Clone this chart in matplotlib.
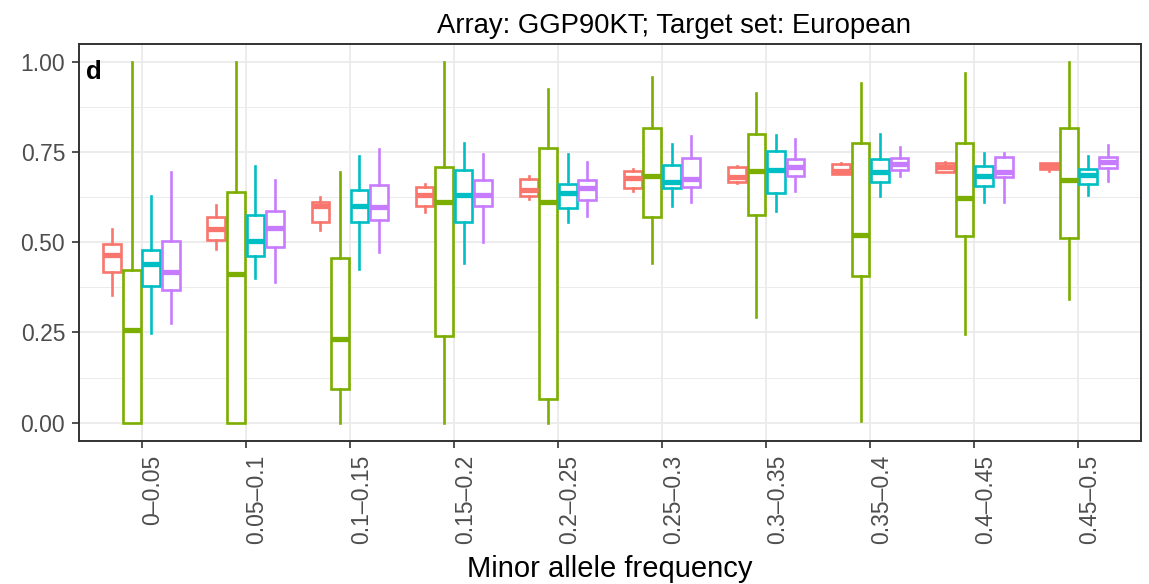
import numpy as np
import matplotlib
matplotlib.use("Agg")
import matplotlib.pyplot as plt
from matplotlib.ticker import MultipleLocator

plt.rcParams["font.family"] = ["Liberation Sans", "DejaVu Sans"]

# Data: per MAF bin, (whisker low, q1, median, q3, whisker high)
categories = ["0\u20130.05", "0.05\u20130.1", "0.1\u20130.15", "0.15\u20130.2", "0.2\u20130.25",
              "0.25\u20130.3", "0.3\u20130.35", "0.35\u20130.4", "0.4\u20130.45", "0.45\u20130.5"]

grp1 = [(0.353, 0.417, 0.465, 0.495, 0.537),
        (0.482, 0.507, 0.537, 0.569, 0.604),
        (0.533, 0.555, 0.602, 0.611, 0.625),
        (0.585, 0.602, 0.630, 0.654, 0.662),
        (0.620, 0.629, 0.645, 0.675, 0.684),
        (0.643, 0.652, 0.679, 0.698, 0.703),
        (0.664, 0.668, 0.682, 0.708, 0.712),
        (0.689, 0.690, 0.698, 0.718, 0.720),
        (0.695, 0.696, 0.708, 0.721, 0.723),
        (0.698, 0.703, 0.711, 0.719, 0.720)]

grp2 = [(0.000, 0.000, 0.258, 0.424, 1.000),
        (0.000, 0.000, 0.413, 0.640, 1.000),
        (0.000, 0.093, 0.233, 0.456, 0.696),
        (0.000, 0.241, 0.612, 0.708, 1.000),
        (0.000, 0.066, 0.612, 0.761, 0.924),
        (0.444, 0.569, 0.685, 0.816, 0.959),
        (0.293, 0.576, 0.699, 0.801, 0.913),
        (0.005, 0.408, 0.519, 0.775, 0.943),
        (0.246, 0.518, 0.622, 0.775, 0.969),
        (0.343, 0.513, 0.673, 0.816, 1.000)]

grp3 = [(0.248, 0.378, 0.440, 0.479, 0.629),
        (0.401, 0.463, 0.504, 0.576, 0.712),
        (0.426, 0.555, 0.602, 0.645, 0.738),
        (0.442, 0.555, 0.632, 0.701, 0.775),
        (0.555, 0.595, 0.636, 0.661, 0.745),
        (0.601, 0.650, 0.666, 0.715, 0.773),
        (0.587, 0.636, 0.701, 0.752, 0.798),
        (0.629, 0.666, 0.695, 0.731, 0.801),
        (0.613, 0.657, 0.684, 0.712, 0.747),
        (0.631, 0.662, 0.687, 0.704, 0.738)]

grp4 = [(0.276, 0.368, 0.417, 0.505, 0.696),
        (0.391, 0.486, 0.539, 0.587, 0.673),
        (0.473, 0.562, 0.599, 0.659, 0.758),
        (0.502, 0.601, 0.630, 0.673, 0.745),
        (0.572, 0.618, 0.652, 0.673, 0.722),
        (0.611, 0.653, 0.675, 0.733, 0.795),
        (0.643, 0.684, 0.708, 0.730, 0.786),
        (0.684, 0.701, 0.717, 0.733, 0.765),
        (0.613, 0.682, 0.695, 0.736, 0.749),
        (0.670, 0.705, 0.723, 0.736, 0.769)]

groups = [grp1, grp2, grp3, grp4]
colors = ["#F8766D", "#7CAE00", "#00BFC4", "#C77CFF"]

fig = plt.figure(figsize=(11.49, 5.84), dpi=100)
ax = fig.add_axes([0.0688, 0.2454, 0.9242, 0.6793])

x = np.arange(1, len(categories) + 1)
dodge = 0.1875
for k, (grp, col) in enumerate(zip(groups, colors)):
    stats = [dict(whislo=s[0], q1=s[1], med=s[2], q3=s[3], whishi=s[4]) for s in grp]
    pos = x + (k - 1.5) * dodge
    ax.bxp(stats, positions=pos, widths=0.17, showfliers=False, showcaps=False,
           patch_artist=True, manage_ticks=False,
           boxprops=dict(facecolor="white", edgecolor=col, linewidth=1.9),
           whiskerprops=dict(color=col, linewidth=1.9),
           medianprops=dict(color=col, linewidth=3.8, solid_capstyle="butt"),
           zorder=3)

ax.set_xlim(0.4, 10.6)
ax.set_ylim(-0.05, 1.05)
ax.set_xticks(x)
ax.set_xticklabels(categories, rotation=90, ha="left", va="top")
ax.yaxis.set_minor_locator(MultipleLocator(0.125))
ax.set_yticks([0, 0.25, 0.5, 0.75, 1.0])
ax.set_yticklabels(["0.00", "0.25", "0.50", "0.75", "1.00"])

ax.grid(True, which="major", color="#EBEBEB", linewidth=1.3, zorder=0)
ax.grid(True, which="minor", axis="y", color="#EBEBEB", linewidth=0.7, zorder=0)
ax.set_axisbelow(True)
ax.tick_params(axis="both", which="major", labelsize=16.5, labelcolor="#4D4D4D",
               color="#333333", length=5, width=1.2, pad=5)
ax.tick_params(axis="y", which="minor", length=0)
for sp in ax.spines.values():
    sp.set_color("#333333")
    sp.set_linewidth(1.4)

ax.text(0.0066, 0.912, "d", transform=ax.transAxes, fontsize=18.5, fontweight="bold",
        ha="left", va="baseline")

fig.text(674 / 1149, 1 - 33 / 584, "Array: GGP90KT; Target set: European",
         fontsize=19.8, ha="center", va="baseline")
fig.text(609.5 / 1149, 1 - 577 / 584, "Minor allele frequency",
         fontsize=21, ha="center", va="baseline")

fig.savefig("out.png", dpi=100)
